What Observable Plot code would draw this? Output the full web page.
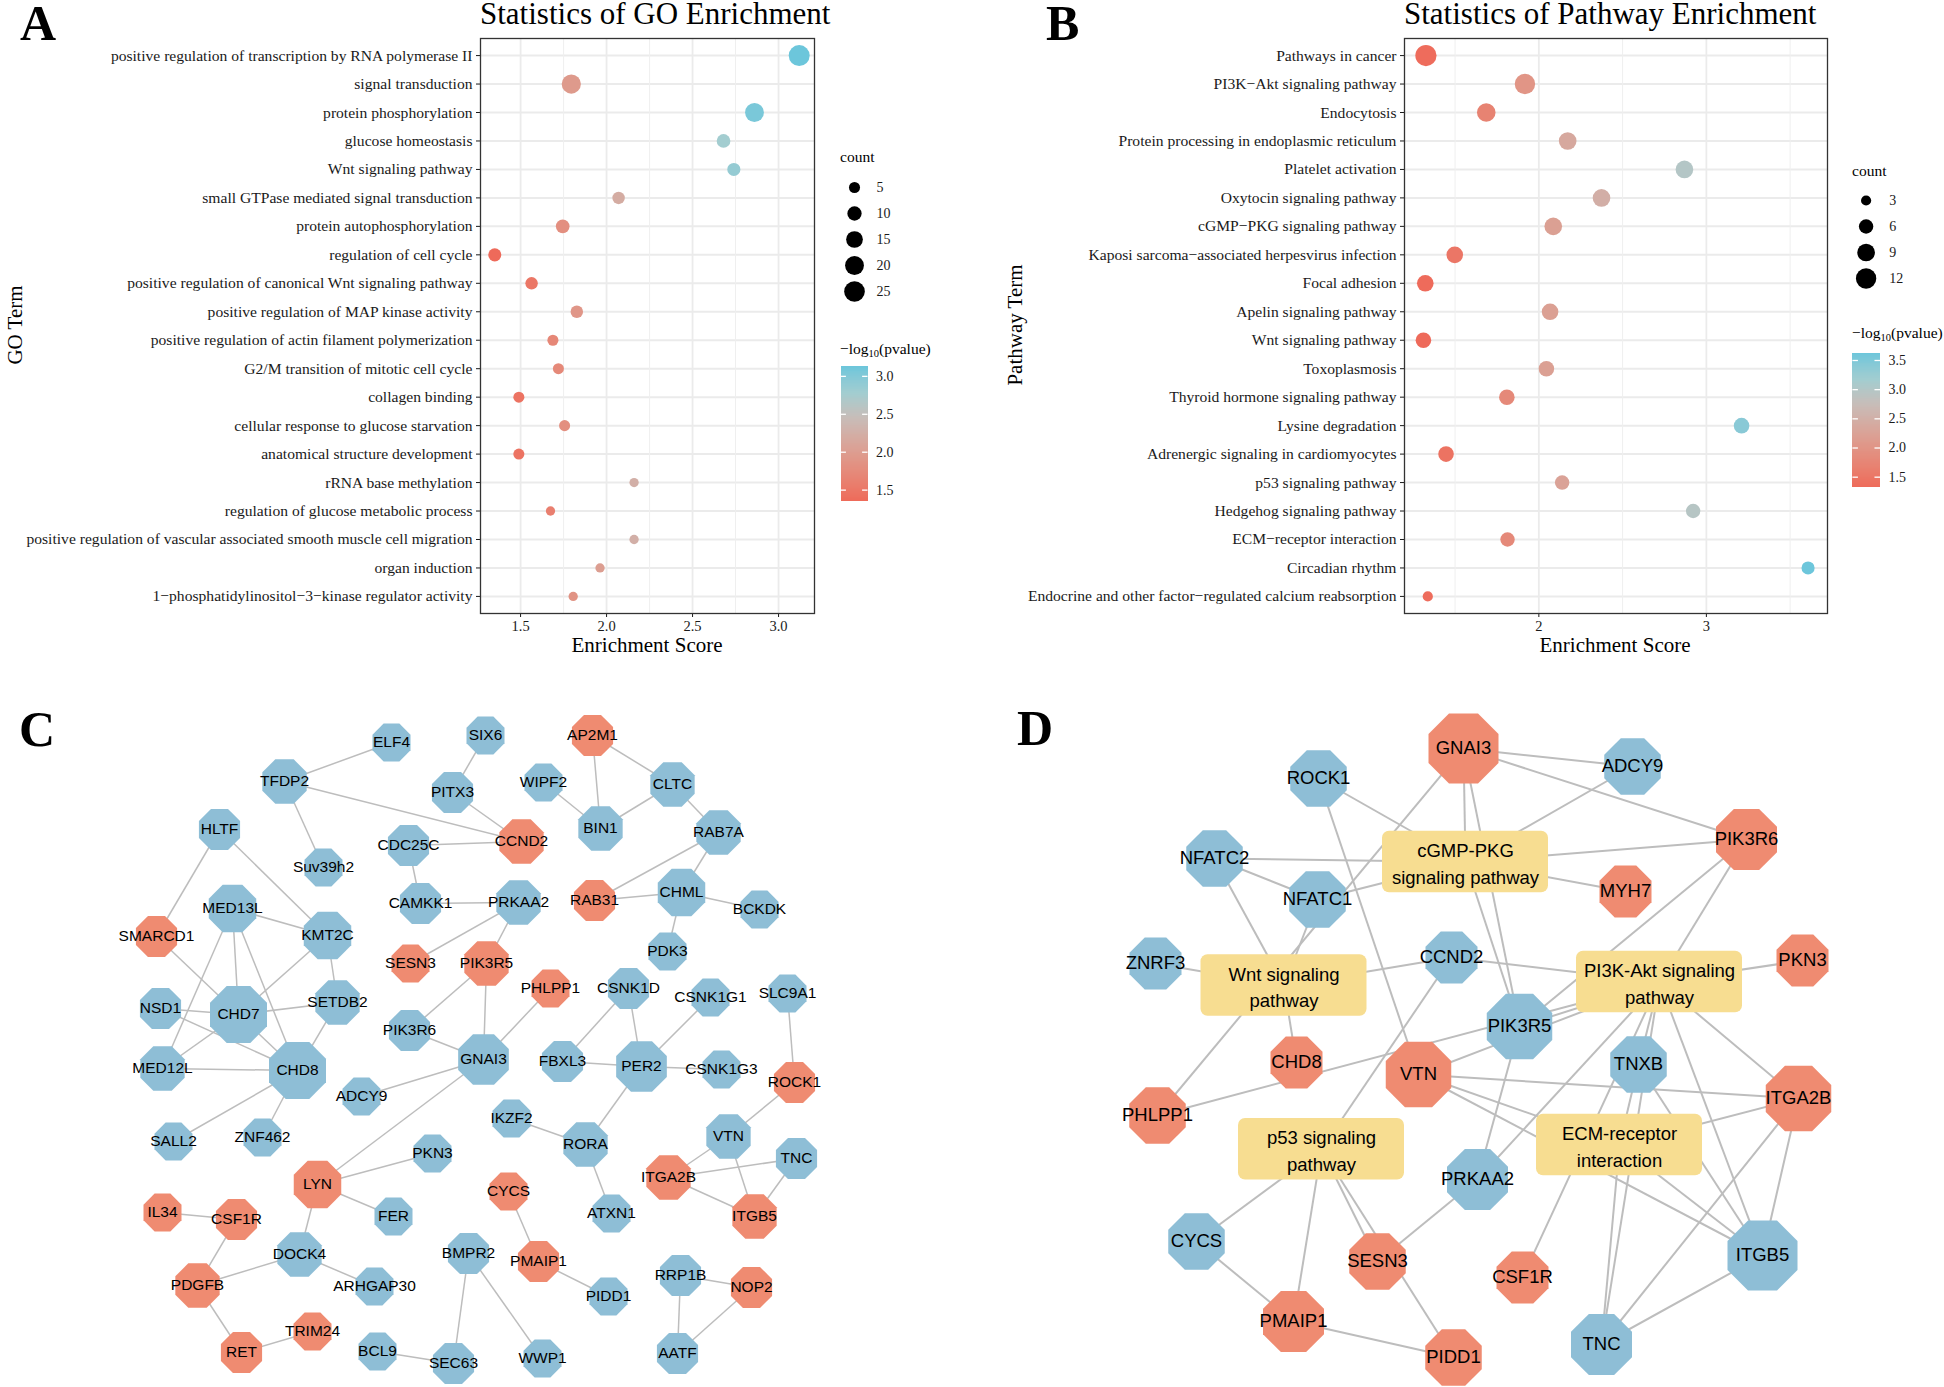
<!DOCTYPE html>
<html>
<head>
<meta charset="utf-8">
<script src="https://cdn.jsdelivr.net/npm/d3@7"></script>
<script src="https://cdn.jsdelivr.net/npm/@observablehq/plot@0.6"></script>
<style>
html,body{margin:0;padding:0;background:#fff;}
#fig{position:relative;width:1944px;height:1387px;overflow:hidden;background:#fff;}
.pane{position:absolute;line-height:0;}
.pane svg{display:block;overflow:visible;}
#overlay{position:absolute;left:0;top:0;pointer-events:none;}
#overlay text{font-family:"Liberation Serif","Times New Roman",serif;fill:#000;}
</style>
</head>
<body>
<div id="fig">
  <div class="pane" id="pA" style="left:0;top:0"></div>
  <div class="pane" id="pAsize" style="left:830px;top:170px"></div>
  <div class="pane" id="pAcol" style="left:830px;top:355px"></div>
  <div class="pane" id="pB" style="left:960px;top:0"></div>
  <div class="pane" id="pBsize" style="left:1840px;top:180px"></div>
  <div class="pane" id="pBcol" style="left:1840px;top:345px"></div>
  <div class="pane" id="pC" style="left:0;top:694px"></div>
  <div class="pane" id="pD" style="left:960px;top:694px"></div>
  <svg id="overlay" width="1944" height="1387">
    <text x="20" y="40" font-size="50" font-weight="bold">A</text>
    <text x="1046" y="40" font-size="50" font-weight="bold">B</text>
    <text x="19" y="746" font-size="50" font-weight="bold">C</text>
    <text x="1017" y="745" font-size="50" font-weight="bold">D</text>
    <text x="480" y="24" font-size="31">Statistics of GO Enrichment</text>
    <text x="1404" y="24" font-size="31">Statistics of Pathway Enrichment</text>
    <text x="647" y="652" font-size="21" text-anchor="middle">Enrichment Score</text>
    <text x="1615" y="652" font-size="21" text-anchor="middle">Enrichment Score</text>
    <text transform="translate(22,325) rotate(-90)" font-size="21" text-anchor="middle">GO Term</text>
    <text transform="translate(1022,325) rotate(-90)" font-size="21" text-anchor="middle">Pathway Term</text>
    <text x="840" y="162" font-size="15.5">count</text>
    <text x="1852" y="176" font-size="15.5">count</text>
    <text x="840" y="354" font-size="15.5">−log<tspan font-size="10.5" dy="3">10</tspan><tspan dy="-3">(pvalue)</tspan></text>
    <text x="1852" y="338" font-size="15.5">−log<tspan font-size="10.5" dy="3">10</tspan><tspan dy="-3">(pvalue)</tspan></text>
  </svg>
</div>
<script>
// ---------------- Panel A: GO enrichment ----------------
const goTerms = [
  "positive regulation of transcription by RNA polymerase II",
  "signal transduction",
  "protein phosphorylation",
  "glucose homeostasis",
  "Wnt signaling pathway",
  "small GTPase mediated signal transduction",
  "protein autophosphorylation",
  "regulation of cell cycle",
  "positive regulation of canonical Wnt signaling pathway",
  "positive regulation of MAP kinase activity",
  "positive regulation of actin filament polymerization",
  "G2/M transition of mitotic cell cycle",
  "collagen binding",
  "cellular response to glucose starvation",
  "anatomical structure development",
  "rRNA base methylation",
  "regulation of glucose metabolic process",
  "positive regulation of vascular associated smooth muscle cell migration",
  "organ induction",
  "1−phosphatidylinositol−3−kinase regulator activity"
];
const goScore = [3.12, 1.795, 2.86, 2.68, 2.74, 2.07, 1.745, 1.35, 1.564, 1.827, 1.688, 1.72, 1.49, 1.756, 1.49, 2.16, 1.674, 2.16, 1.962, 1.806];
const goLogP  = [3.13, 1.95, 3.05, 2.77, 2.87, 2.2, 1.8, 1.35, 1.5, 1.9, 1.7, 1.72, 1.45, 1.8, 1.45, 2.25, 1.6, 2.25, 2.0, 1.85];
const goCount = [26, 21, 20, 9, 8, 7, 9, 8, 7, 7, 5, 5, 5, 5, 5, 3, 3, 3, 3, 3];
const goTicks = [1.5, 2.0, 2.5, 3.0];
const goCountBreaks = [5, 10, 15, 20, 25];
const goColorBreaks = [1.5, 2.0, 2.5, 3.0];

// ---------------- Panel B: KEGG pathway enrichment ----------------
const kgTerms = [
  "Pathways in cancer",
  "PI3K−Akt signaling pathway",
  "Endocytosis",
  "Protein processing in endoplasmic reticulum",
  "Platelet activation",
  "Oxytocin signaling pathway",
  "cGMP−PKG signaling pathway",
  "Kaposi sarcoma−associated herpesvirus infection",
  "Focal adhesion",
  "Apelin signaling pathway",
  "Wnt signaling pathway",
  "Toxoplasmosis",
  "Thyroid hormone signaling pathway",
  "Lysine degradation",
  "Adrenergic signaling in cardiomyocytes",
  "p53 signaling pathway",
  "Hedgehog signaling pathway",
  "ECM−receptor interaction",
  "Circadian rhythm",
  "Endocrine and other factor−regulated calcium reabsorption"
];
const kgScore = [1.326, 1.917, 1.686, 2.172, 2.869, 2.374, 2.086, 1.498, 1.322, 2.067, 1.311, 2.045, 1.809, 3.21, 1.446, 2.139, 2.921, 1.813, 3.607, 1.337];
const kgLogP  = [1.35, 2.0, 1.7, 2.35, 2.98, 2.47, 2.2, 1.5, 1.33, 2.2, 1.32, 2.2, 1.8, 3.4, 1.45, 2.25, 2.95, 1.8, 3.62, 1.35];
const kgCount = [13, 12, 10, 9, 9, 9, 9, 8, 8, 8, 7, 7, 7, 7, 7, 6, 6, 6, 5, 3];
const kgTicks = [2, 3];
const kgCountBreaks = [3, 6, 9, 12];
const kgColorBreaks = [1.5, 2.0, 2.5, 3.0, 3.5];

// ---------------- Panel C: PPI network (layout coordinates) ----------------
const cNodes = [
  ["ELF4",391,742],["SIX6",485,735],["AP2M1",592,735],["TFDP2",284,781],["PITX3",452,792],
  ["WIPF2",543,782],["CLTC",672,784],["HLTF",219,829],["BIN1",600,828],["RAB7A",718,832],
  ["CCND2",521,841],["CDC25C",408,845],["Suv39h2",323,867],["MED13L",232,908],["CAMKK1",420,903],
  ["PRKAA2",518,902],["RAB31",594,900],["CHML",681,892],["BCKDK",759,909],["SMARCD1",156,936],
  ["KMT2C",327,935],["PDK3",667,951],["SESN3",410,963],["PIK3R5",486,963],["PHLPP1",550,988],
  ["CSNK1D",628,988],["CSNK1G1",710,997],["SLC9A1",787,993],["NSD1",160,1008],["CHD7",238,1014],
  ["SETDB2",337,1002],["PIK3R6",409,1030],["MED12L",162,1068],["CHD8",297,1070],["GNAI3",483,1059],
  ["FBXL3",562,1061],["PER2",641,1066],["CSNK1G3",721,1069],["ROCK1",794,1082],["ADCY9",361,1096],
  ["IKZF2",511,1118],["SALL2",173,1141],["ZNF462",262,1137],["RORA",585,1144],["VTN",728,1136],
  ["PKN3",432,1153],["TNC",796,1158],["ITGA2B",668,1177],["LYN",317,1184],["CYCS",508,1191],
  ["IL34",162,1212],["CSF1R",236,1219],["FER",393,1216],["ATXN1",611,1213],["ITGB5",754,1216],
  ["DOCK4",299,1254],["BMPR2",468,1253],["PMAIP1",538,1261],["ARHGAP30",374,1286],["PDGFB",197,1285],
  ["RRP1B",680,1275],["NOP2",751,1287],["PIDD1",608,1296],["TRIM24",312,1331],["RET",241,1352],
  ["BCL9",377,1351],["SEC63",453,1363],["WWP1",542,1358],["AATF",677,1353]
];
const cUpGenes = ["AP2M1","CCND2","RAB31","SMARCD1","SESN3","PIK3R5","PHLPP1","ROCK1","ITGA2B","ITGB5",
  "LYN","CYCS","IL34","CSF1R","PDGFB","PMAIP1","NOP2","TRIM24","RET"];
const cEdges = [
  ["ELF4","TFDP2"],["TFDP2","CCND2"],["TFDP2","Suv39h2"],["SIX6","PITX3"],["PITX3","CCND2"],["CDC25C","CCND2"],
  ["AP2M1","BIN1"],["AP2M1","CLTC"],["WIPF2","BIN1"],["BIN1","CLTC"],["CLTC","RAB7A"],["RAB7A","RAB31"],
  ["RAB7A","CHML"],["RAB31","CHML"],["CHML","BCKDK"],["CHML","PDK3"],["CDC25C","CAMKK1"],["CAMKK1","PRKAA2"],
  ["PRKAA2","SESN3"],["PRKAA2","PIK3R5"],["PIK3R5","PIK3R6"],["PIK3R5","GNAI3"],["PHLPP1","GNAI3"],["PIK3R6","GNAI3"],
  ["GNAI3","ADCY9"],["GNAI3","LYN"],["HLTF","SMARCD1"],["HLTF","KMT2C"],["MED13L","KMT2C"],["MED13L","CHD7"],
  ["MED13L","CHD8"],["MED13L","MED12L"],["SMARCD1","CHD7"],["NSD1","CHD7"],["NSD1","CHD8"],["KMT2C","CHD7"],
  ["KMT2C","SETDB2"],["SETDB2","CHD7"],["SETDB2","CHD8"],["MED12L","CHD8"],["MED12L","CHD7"],["CHD7","CHD8"],
  ["CHD8","SALL2"],["CHD8","ZNF462"],["CSNK1D","FBXL3"],["CSNK1D","PER2"],["CSNK1G1","PER2"],["PER2","FBXL3"],
  ["PER2","CSNK1G3"],["PER2","RORA"],["IKZF2","RORA"],["RORA","ATXN1"],["SLC9A1","ROCK1"],["ROCK1","VTN"],
  ["VTN","ITGA2B"],["VTN","ITGB5"],["TNC","ITGA2B"],["TNC","ITGB5"],["ITGA2B","ITGB5"],["LYN","PKN3"],
  ["LYN","FER"],["LYN","DOCK4"],["DOCK4","PDGFB"],["DOCK4","ARHGAP30"],["IL34","CSF1R"],["CSF1R","PDGFB"],
  ["PDGFB","RET"],["RET","TRIM24"],["CYCS","PMAIP1"],["PMAIP1","PIDD1"],["BMPR2","SEC63"],["BMPR2","WWP1"],
  ["BCL9","SEC63"],["RRP1B","NOP2"],["RRP1B","AATF"],["NOP2","AATF"]
];

// ---------------- Panel D: gene–pathway network (layout coordinates, node weight) ----------------
const dGenes = [
  ["GNAI3",1463,748,5],["ADCY9",1632,766,2],["ROCK1",1318,778,2],["PIK3R6",1746,839,3],["NFATC2",1214,858,2],
  ["NFATC1",1317,899,2],["MYH7",1625,891,1],["ZNRF3",1155,963,1],["CCND2",1451,957,1],["PKN3",1802,960,1],
  ["PIK3R5",1519,1026,4],["CHD8",1296,1062,1],["VTN",1418,1074,4],["TNXB",1638,1064,2],["ITGA2B",1798,1098,4],
  ["PHLPP1",1157,1115,2],["PRKAA2",1477,1179,3],["CYCS",1196,1241,2],["SESN3",1377,1261,2],["CSF1R",1522,1277,1],
  ["ITGB5",1762,1255,5],["PMAIP1",1293,1321,3],["TNC",1601,1344,3],["PIDD1",1453,1357,2]
];
const dUpGenes = ["GNAI3","PIK3R6","MYH7","PKN3","CHD8","VTN","ITGA2B","PHLPP1","SESN3","CSF1R","PMAIP1","PIDD1"];
const dPathways = [
  ["cGMP","cGMP-PKG\nsignaling pathway",1465,861.5],
  ["Wnt","Wnt signaling\npathway",1283.5,985],
  ["PI3K","PI3K-Akt signaling\npathway",1659,981.5],
  ["p53","p53 signaling\npathway",1321,1148.7],
  ["ECM","ECM-receptor\ninteraction",1619,1144.5]
];
const dEdges = [
  ["cGMP","GNAI3"],["cGMP","ADCY9"],["cGMP","ROCK1"],["cGMP","NFATC2"],["cGMP","NFATC1"],["cGMP","PIK3R6"],["cGMP","MYH7"],["cGMP","PIK3R5"],
  ["Wnt","NFATC2"],["Wnt","NFATC1"],["Wnt","ZNRF3"],["Wnt","CCND2"],["Wnt","CHD8"],
  ["PI3K","PIK3R6"],["PI3K","CCND2"],["PI3K","PKN3"],["PI3K","PIK3R5"],["PI3K","VTN"],["PI3K","PHLPP1"],["PI3K","PRKAA2"],
  ["PI3K","TNXB"],["PI3K","ITGA2B"],["PI3K","ITGB5"],["PI3K","TNC"],["PI3K","CSF1R"],
  ["ECM","VTN"],["ECM","TNXB"],["ECM","ITGA2B"],["ECM","ITGB5"],["ECM","TNC"],
  ["p53","CCND2"],["p53","CYCS"],["p53","PMAIP1"],["p53","SESN3"],["p53","PIDD1"],
  ["GNAI3","ADCY9"],["GNAI3","PIK3R6"],["GNAI3","PIK3R5"],["GNAI3","PHLPP1"],["NFATC2","NFATC1"],["ROCK1","VTN"],
  ["PIK3R6","PIK3R5"],["PIK3R5","PRKAA2"],["PRKAA2","SESN3"],["CYCS","PMAIP1"],["PMAIP1","PIDD1"],
  ["VTN","ITGA2B"],["VTN","ITGB5"],["ITGA2B","ITGB5"],["ITGA2B","TNC"],["ITGB5","TNC"],["TNXB","ITGB5"]
];

// ---------------- styling ----------------
const GRAD_COLORS = ["#EE6A5A", "#C7BDB9", "#A2CDD0", "#6CC6DB"];
const GRAD_STOPS = [0, 0.62, 0.8, 1];
const ORANGE = "#EF8B71", BLUE = "#8EBED6", GOLD = "#F7DD91", EDGE = "#BDBDBD";
const SERIF = "font-family:'Liberation Serif','Times New Roman',serif;font-size:15.6px;color:#1a1a1a;background:transparent;overflow:visible;";
const SANS = "font-family:'Liberation Sans',Arial,sans-serif;background:transparent;overflow:visible;";

function colorScale(dom) {
  const [lo, hi] = dom;
  return {type: "linear", domain: GRAD_STOPS.map(t => lo + t * (hi - lo)), range: GRAD_COLORS, interpolate: "lab"};
}

function minorOf(ticks, domain) {
  const step = ticks[1] - ticks[0];
  return d3.range(ticks[0] - step / 2, ticks[ticks.length - 1] + step, step)
    .filter(v => v > domain[0] && v < domain[1]);
}

function enrichPlot(o) {
  const n = o.terms.length;
  const idx = d3.range(n);
  const rows = idx.map(i => ({i, score: o.score[i], logp: o.logp[i], count: o.count[i]}));
  return Plot.plot({
    width: o.width, height: 660,
    marginLeft: o.marginLeft, marginRight: o.marginRight, marginTop: 38, marginBottom: 47,
    style: SERIF,
    x: {domain: o.xDomain},
    // rows indexed top-to-bottom, 0.6 row of padding on each side (ggplot default)
    y: {domain: [n - 1 + 0.6, -0.6]},
    r: {type: "sqrt", domain: o.rDomain, range: o.rRange},
    color: colorScale(o.cDomain),
    marks: [
      Plot.ruleY(idx, {y: d => d, stroke: "#EBEBEB", strokeWidth: 2}),
      Plot.ruleX(minorOf(o.ticks, o.xDomain), {x: d => d, stroke: "#EFEFEF", strokeWidth: 1}),
      Plot.ruleX(o.ticks, {x: d => d, stroke: "#EBEBEB", strokeWidth: 1.8}),
      Plot.dot(rows, {x: "score", y: "i", r: "count", fill: "logp"}),
      Plot.axisX({ticks: o.ticks, tickFormat: o.tickFormat, tickSize: 4, tickPadding: 3, label: null, fontSize: 14.5}),
      Plot.axisY({ticks: idx, tickFormat: i => o.terms[i], tickSize: 4, tickPadding: 4, label: null}),
      Plot.frame({stroke: "#333", strokeWidth: 1.3})
    ]
  });
}

function sizeLegend(o) {
  return Plot.plot({
    width: o.width, height: o.height, margin: 0, style: SERIF,
    x: {domain: [0, 1], range: [o.dotX, o.labelX], axis: null},
    y: {type: "point", domain: o.breaks, range: [o.y0, o.y1], padding: 0, axis: null},
    r: {type: "sqrt", domain: o.rDomain, range: o.rRange},
    marks: [
      Plot.dot(o.breaks, {x: () => 0, y: d => d, r: d => d, fill: "#000"}),
      Plot.text(o.breaks, {x: () => 1, y: d => d, text: d => String(d), textAnchor: "start", fontSize: 14})
    ]
  });
}

function colorLegend(o) {
  const n = 150, lo = o.cDomain[0], hi = o.cDomain[1], step = (hi - lo) / n;
  const slices = d3.range(n).map(i => lo + step * i);
  return Plot.plot({
    width: o.width, height: o.height, margin: 0, style: SERIF,
    x: {domain: [0, 1], range: o.xRange, axis: null},
    y: {domain: o.cDomain, range: o.yRange, axis: null},
    color: colorScale(o.cDomain),
    marks: [
      Plot.rect(slices, {x1: () => 0, x2: () => 1, y1: d => d, y2: d => Math.min(hi, d + step * 1.6), fill: d => d + step / 2, shapeRendering: "crispEdges"}),
      Plot.ruleY(o.breaks, {x1: () => 0, x2: () => 0.2, y: d => d, stroke: "#fff", strokeWidth: 1.3}),
      Plot.ruleY(o.breaks, {x1: () => 0.8, x2: () => 1, y: d => d, stroke: "#fff", strokeWidth: 1.3}),
      Plot.text(o.breaks, {x: () => 1, y: d => d, text: d => d.toFixed(1), dx: 8, textAnchor: "start", fontSize: 14})
    ]
  });
}

const octagon = {
  draw(ctx, size) {
    const a = Math.sqrt(size / Math.PI);
    const R = a / Math.cos(Math.PI / 8);
    for (let k = 0; k < 8; ++k) {
      const t = Math.PI / 8 + k * Math.PI / 4;
      const x = R * Math.cos(t), y = R * Math.sin(t);
      if (k) ctx.lineTo(x, y); else ctx.moveTo(x, y);
    }
    ctx.closePath();
  }
};

function netPlot(o) {
  const pos = new Map();
  o.nodes.forEach(n => pos.set(n.id, n));
  (o.boxes || []).forEach(b => pos.set(b.id, b));
  const links = o.edges.map(([a, b]) => ({a: pos.get(a), b: pos.get(b)}));
  return Plot.plot({
    width: o.width, height: o.height, margin: 0, style: SANS,
    x: {domain: o.xDomain, axis: null},
    y: {domain: o.yDomain, reverse: true, axis: null},
    r: {type: "linear", domain: o.rDomain, range: o.rRange},
    color: {domain: ["up", "down"], range: [ORANGE, BLUE]},
    marks: [
      Plot.link(links, {x1: d => d.a.x, y1: d => d.a.y, x2: d => d.b.x, y2: d => d.b.y, stroke: EDGE, strokeWidth: o.edgeWidth}),
      o.boxes ? Plot.rect(o.boxes, {x1: d => d.x - o.boxW / 2, x2: d => d.x + o.boxW / 2, y1: d => d.y - o.boxH / 2, y2: d => d.y + o.boxH / 2, fill: GOLD, rx: 7, ry: 7}) : null,
      Plot.dot(o.nodes, {x: "x", y: "y", r: "w", fill: "grp", symbol: octagon}),
      Plot.text(o.nodes, {x: "x", y: "y", text: "id", fontSize: o.fontSize, fill: "#000"}),
      o.boxes ? Plot.text(o.boxes, {x: "x", y: "y", text: "label", fontSize: o.fontSize, lineHeight: 1.42, fill: "#000"}) : null
    ]
  });
}

// ---------------- render ----------------
const goX = [1.267, 3.209], goR = [3, 26], goRR = [4.65, 10.5], goC = [1.35, 3.13];
document.getElementById("pA").append(enrichPlot({
  terms: goTerms, score: goScore, logp: goLogP, count: goCount, ticks: goTicks,
  tickFormat: d3.format(".1f"), xDomain: goX, rDomain: goR, rRange: goRR, cDomain: goC,
  width: 830, marginLeft: 480, marginRight: 16
}));
document.getElementById("pAsize").append(sizeLegend({
  breaks: goCountBreaks, rDomain: goR, rRange: goRR, width: 100, height: 140, dotX: 24, labelX: 46, y0: 15.7, y1: 123.3
}));
document.getElementById("pAcol").append(colorLegend({
  breaks: goColorBreaks, cDomain: goC, width: 110, height: 160, xRange: [10.5, 37.5], yRange: [146, 11]
}));

const kgX = [1.198, 3.723], kgR = [3, 13], kgRR = [5.1, 10.6], kgC = [1.318, 3.625];
document.getElementById("pB").append(enrichPlot({
  terms: kgTerms, score: kgScore, logp: kgLogP, count: kgCount, ticks: kgTicks,
  tickFormat: d3.format("d"), xDomain: kgX, rDomain: kgR, rRange: kgRR, cDomain: kgC,
  width: 880, marginLeft: 444, marginRight: 13
}));
document.getElementById("pBsize").append(sizeLegend({
  breaks: kgCountBreaks, rDomain: kgR, rRange: kgRR, width: 104, height: 120, dotX: 25.6, labelX: 48.8, y0: 19, y1: 99.3
}));
document.getElementById("pBcol").append(colorLegend({
  breaks: kgColorBreaks, cDomain: kgC, width: 104, height: 150, xRange: [12.4, 40], yRange: [142.3, 7.7]
}));

// Panel C: node weight = degree in the network
const cDegree = new Map();
cEdges.forEach(([a, b]) => { cDegree.set(a, (cDegree.get(a) || 0) + 1); cDegree.set(b, (cDegree.get(b) || 0) + 1); });
const cNodeRows = cNodes.map(([id, x, y]) => ({id, x, y, w: cDegree.get(id) || 1, grp: cUpGenes.includes(id) ? "up" : "down"}));
document.getElementById("pC").append(netPlot({
  nodes: cNodeRows, edges: cEdges, width: 960, height: 693,
  xDomain: [0, 960], yDomain: [694, 1387], rDomain: [1, 7], rRange: [19, 28.5],
  fontSize: 15.5, edgeWidth: 1.5
}));

const dNodeRows = dGenes.map(([id, x, y, w]) => ({id, x, y, w, grp: dUpGenes.includes(id) ? "up" : "down"}));
const dBoxRows = dPathways.map(([id, label, x, y]) => ({id, label, x, y}));
document.getElementById("pD").append(netPlot({
  nodes: dNodeRows, boxes: dBoxRows, edges: dEdges, width: 984, height: 693,
  xDomain: [960, 1944], yDomain: [694, 1387], rDomain: [1, 5], rRange: [26, 35],
  fontSize: 18.5, edgeWidth: 2, boxW: 166, boxH: 61.5
}));
</script>
</body>
</html>
